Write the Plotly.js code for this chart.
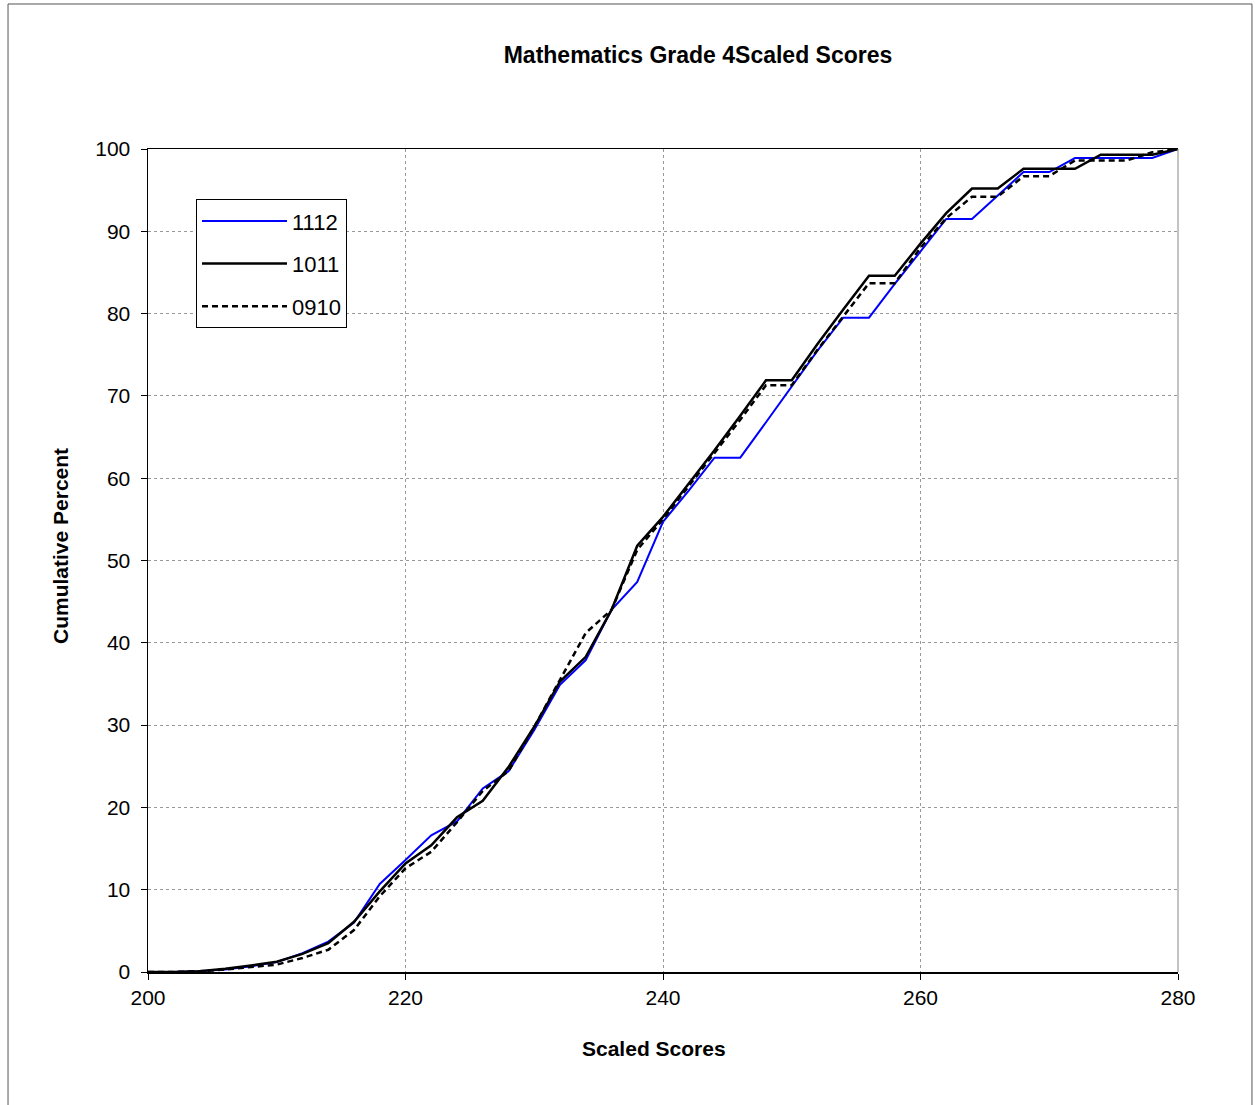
<!DOCTYPE html>
<html>
<head>
<meta charset="utf-8">
<script src="https://cdn.plot.ly/plotly-3.0.1.min.js"></script>
<style>
  html, body { margin: 0; padding: 0; background: #fff; }
  #chart { width: 1255px; height: 1105px; }
</style>
</head>
<body>
<div id="chart"></div>
<script>
// Scaled score points (x)
const scores = [200,202,204,206,208,210,212,214,216,218,220,222,224,226,228,230,232,234,236,238,240,
                242,244,246,248,250,252,254,256,258,260,262,264,266,268,270,272,274,276,278,280];

// Cumulative percent per school year
const pct1112 = [0,0,0.1,0.3,0.7,1.2,2.3,3.7,6.0,10.7,13.6,16.6,18.3,22.3,24.4,29.4,34.9,37.9,44.0,47.4,54.7,
                 58.5,62.5,62.5,66.8,71.2,75.5,79.5,79.5,83.6,87.6,91.5,91.5,94.4,97.2,97.2,98.9,98.9,98.9,98.9,100];
const pct1011 = [0,0,0.1,0.4,0.8,1.25,2.2,3.5,6.1,9.8,13.2,15.4,18.8,20.8,24.9,29.8,35.3,38.3,44.0,51.8,55.3,
                 59.3,63.4,67.6,71.9,71.9,76.3,80.5,84.6,84.6,88.5,92.2,95.2,95.2,97.6,97.6,97.6,99.3,99.3,99.3,100];
const pct0910 = [0,0,0.1,0.3,0.6,0.9,1.7,2.7,5.1,9.2,12.6,14.6,18.2,22.0,24.4,29.8,35.5,41.2,44.0,51.3,55.0,
                 59.0,63.0,67.1,71.3,71.3,75.6,79.7,83.7,83.7,88.0,91.6,94.2,94.2,96.7,96.7,98.6,98.6,98.6,99.6,100];

const seriesNames = ['1112', '1011', '0910'];
const xTicks = [200, 220, 240, 260, 280];
const yTicks = [0,10,20,30,40,50,60,70,80,90,100];

const FONT = 'Arial, "Liberation Sans", sans-serif';

const traces = [
  { x: scores, y: pct1112, name: seriesNames[0], type: 'scatter', mode: 'lines',
    line: { color: '#0000FF', width: 2 }, legendgroup: 'a', legendrank: 1 },
  { x: scores, y: pct1011, name: seriesNames[1], type: 'scatter', mode: 'lines',
    line: { color: '#000000', width: 2.5 }, legendgroup: 'b', legendrank: 2 },
  { x: scores, y: pct0910, name: seriesNames[2], type: 'scatter', mode: 'lines',
    line: { color: '#000000', width: 2.5, dash: '6px,4px' }, legendgroup: 'c', legendrank: 3 }
];

const layout = {
  width: 1255, height: 1105,
  margin: { l: 148, r: 77, t: 149, b: 133 },
  paper_bgcolor: '#ffffff', plot_bgcolor: '#ffffff',
  font: { family: FONT, size: 21, color: '#000' },
  title: { text: '<b>Mathematics Grade 4Scaled Scores</b>', font: { family: FONT, size: 23, color: '#000' },
           xref: 'paper', yref: 'container', x: 0.534, y: 0.950, xanchor: 'center', yanchor: 'middle' },
  xaxis: {
    range: [200, 280], tickvals: xTicks, ticktext: xTicks.map(String),
    showgrid: true, gridcolor: '#999999', griddash: 'dot', gridwidth: 1,
    showline: true, linecolor: '#000', linewidth: 1.5, mirror: true,
    ticks: 'outside', ticklen: 6, tickcolor: '#000', tickfont: { size: 21 },
    ticklabelstandoff: 0, zeroline: false
  },
  yaxis: {
    range: [0, 100], tickvals: yTicks, ticktext: yTicks.map(String),
    showgrid: true, gridcolor: '#999999', griddash: 'dot', gridwidth: 1,
    showline: true, linecolor: '#000', linewidth: 1.5,
    ticks: 'outside', ticklen: 6, tickcolor: '#000', tickfont: { size: 21 },
    ticklabelstandoff: 6, zeroline: false
  },
  annotations: [
    { text: '<b>Scaled Scores</b>', xref: 'paper', yref: 'paper', x: (654 - 148) / 1030, y: (972 - 1048) / 823,
      xanchor: 'center', yanchor: 'middle', showarrow: false, font: { family: FONT, size: 21 } },
    { text: '<b>Cumulative Percent</b>', xref: 'paper', yref: 'paper', x: (60 - 148) / 1030, y: (972 - 546) / 823,
      xanchor: 'center', yanchor: 'middle', showarrow: false, textangle: -90, font: { family: FONT, size: 21 } }
  ],
  showlegend: true,
  legend: {
    x: 0.0466, y: 0.939, xanchor: 'left', yanchor: 'top',
    bordercolor: '#000', borderwidth: 1, bgcolor: '#fff',
    font: { family: FONT, size: 22 }, tracegroupgap: 11, traceorder: 'grouped',
    itemwidth: 85
  },
  shapes: [
    // right edge of plot area (grey)
    { type: 'line', xref: 'paper', yref: 'paper', x0: 1, x1: 1, y0: 0, y1: 1,
      line: { color: '#888', width: 1 } },
    // outer chart border
    { type: 'rect', xref: 'paper', yref: 'paper', x0: -0.1359, x1: 1.0718, y0: -0.17, y1: 1.1762,
      line: { color: '#555', width: 1 }, fillcolor: 'rgba(0,0,0,0)', layer: 'below' }
  ]
};

Plotly.newPlot('chart', traces, layout, { displayModeBar: false, staticPlot: true });
</script>
</body>
</html>
